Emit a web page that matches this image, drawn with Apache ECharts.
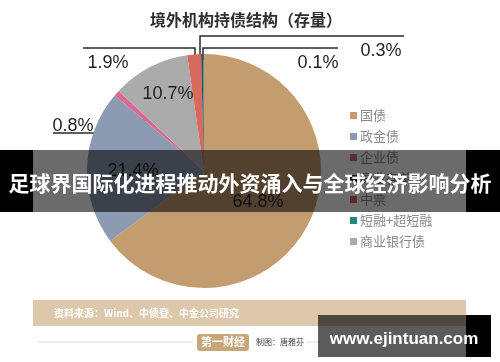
<!DOCTYPE html>
<html><head><meta charset="utf-8">
<script src="https://cdn.jsdelivr.net/npm/echarts@6/dist/echarts.min.js"></script>
<style>html,body{margin:0;padding:0;background:#fff;}#c{width:500px;height:362px;}</style>
</head><body><div id="c"></div>
<script>
// data
const categories = ['国债', '政金债', '企业债', '商业银行债', '中票', '同业存单', '短融+超短融'];
const values = [64.8, 21.4, 0.8, 10.7, 1.9, 0.3, 0.1];
const legendOrder = ['国债', '政金债', '企业债', '同业存单', '中票', '短融+超短融', '商业银行债'];
const colors = ['#c39c70', '#8c9bb1', '#dc6790', '#ababab', '#d76a5c', '#3a4654', '#1f8a7c'];
const labelsText = ['64.8%', '21.4%', '0.8%', '10.7%', '1.9%', '0.3%', '0.1%'];

// label layout (positions only)
const labelPos = {
  0: {x: 258, y: 202},
  1: {x: 133, y: 171},
  2: {x: 73, y: 126, line: [[144, 118], [144, 133], [53, 133]]},
  3: {x: 168, y: 94},
  4: {x: 108, y: 63, line: [[195, 76], [195, 48], [83, 48]]},
  5: {x: 381, y: 51, line: [[200, 62], [200, 36], [404, 36]]},
  6: {x: 318, y: 63, line: [[203, 60], [203, 48], [338, 48]]}
};

const chart = echarts.init(document.getElementById('c'), null, {renderer: 'canvas'});
const seriesData = categories.map((n, i) => ({
  name: n, value: values[i],
  itemStyle: {color: colors[i]},
  label: {formatter: labelsText[i]},
  labelLine: {show: !!labelPos[i].line}
}));

const FONT = '"Liberation Sans", Arial, sans-serif';
const CJK = '"Noto Sans CJK SC", sans-serif';

chart.setOption({
  animation: false,
  backgroundColor: '#ffffff',
  legend: {
    data: legendOrder,
    orient: 'vertical',
    left: 345, top: 104,
    itemWidth: 7, itemHeight: 7, itemGap: 8,
    icon: 'rect',
    textStyle: {color: '#8a8a8a', fontSize: 13, fontFamily: CJK, padding: [0, 0, 0, -2]},
    selectedMode: false
  },
  series: [{
    type: 'pie',
    center: [204, 171],
    radius: 117,
    startAngle: 90,
    clockwise: true,
    avoidLabelOverlap: false,
    data: seriesData,
    label: {
      show: true, position: 'outside',
      color: '#1e1e1e', fontSize: 18, fontFamily: FONT
    },
    labelLine: {lineStyle: {color: '#2a2a2a', width: 1.5}, smooth: false},
    labelLayout: function (p) {
      const lp = labelPos[p.dataIndex];
      const o = {x: lp.x, y: lp.y, align: 'center', verticalAlign: 'middle', hideOverlap: false, moveOverlap: false};
      if (lp.line) o.labelLinePoints = lp.line;
      return o;
    },
    emphasis: {disabled: true}
  }],
  graphic: [
    {type: 'text', z: 50, x: 246, y: 20, style: {text: '境外机构持债结构（存量）', fill: '#2e2e2e', font: 'bold 16px ' + CJK, textAlign: 'center', textVerticalAlign: 'middle'}},
    // source band
    {type: 'rect', z: 50, shape: {x: 33, y: 300, width: 433, height: 26}, style: {fill: '#ddc8ab'}},
    {type: 'text', z: 51, x: 54, y: 313, style: {text: '资料来源：Wind、中债登、中金公司研究', fill: '#fff', font: 'bold 10px ' + CJK, textVerticalAlign: 'middle'}},
    {type: 'line', z: 50, shape: {x1: 38, y1: 342, x2: 193, y2: 342}, style: {stroke: '#dedede', lineWidth: 1}},
    {type: 'line', z: 50, shape: {x1: 306, y1: 342, x2: 320, y2: 342}, style: {stroke: '#dedede', lineWidth: 1}},
    {type: 'rect', z: 50, shape: {x: 197, y: 334, width: 52, height: 17, r: 3}, style: {fill: '#c7a67b'}},
    {type: 'text', z: 51, x: 223, y: 342, style: {text: '第一财经', fill: '#fff', font: 'bold 11px ' + CJK, textAlign: 'center', textVerticalAlign: 'middle'}},
    {type: 'text', z: 51, x: 256, y: 342, style: {text: '制图：唐雅芬', fill: '#444', font: '8px ' + CJK, textVerticalAlign: 'middle'}},
    // overlay banner
    {type: 'rect', z: 100, shape: {x: 0, y: 150, width: 33, height: 62}, style: {fill: '#000'}},
    {type: 'rect', z: 100, shape: {x: 466, y: 150, width: 34, height: 62}, style: {fill: '#000'}},
    {type: 'rect', z: 101, shape: {x: 33, y: 150, width: 433, height: 62}, style: {fill: 'rgba(0,0,0,0.58)'}},
    {type: 'text', z: 102, x: 250, y: 183, style: {text: '足球界国际化进程推动外资涌入与全球经济影响分析', fill: '#fff', font: 'bold 21px ' + CJK, textAlign: 'center', textVerticalAlign: 'middle'}},
    // watermark box
    {type: 'rect', z: 110, shape: {x: 466, y: 315, width: 25, height: 42}, style: {fill: '#000'}},
    {type: 'rect', z: 111, shape: {x: 318, y: 315, width: 148, height: 42}, style: {fill: 'rgba(0,0,0,0.64)'}},
    {type: 'text', z: 112, x: 404, y: 339, style: {text: 'www.ejintuan.com', fill: '#fff', font: 'bold 17px ' + FONT, textAlign: 'center', textVerticalAlign: 'middle'}}
  ]
});
</script></body></html>
